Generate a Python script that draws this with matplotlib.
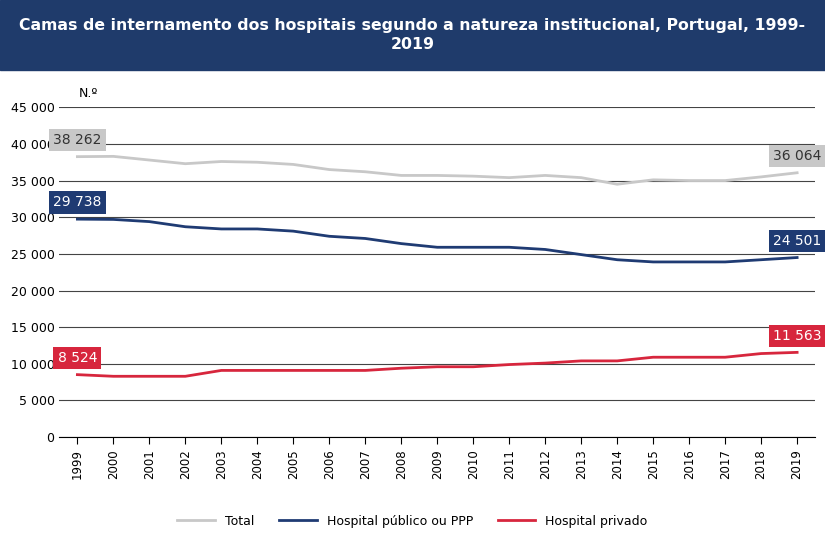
import matplotlib.pyplot as plt
from matplotlib.patches import Rectangle
import numpy as np

years = list(range(1999, 2020))
total = [38262, 38300, 37800, 37300, 37600, 37500, 37200, 36500, 36200, 35700, 35700,
         35600, 35400, 35700, 35400, 34500, 35100, 35000, 35000, 35500, 36064]
publico = [29738, 29700, 29400, 28700, 28400, 28400, 28100, 27400, 27100, 26400, 25900,
           25900, 25900, 25600, 24900, 24200, 23900, 23900, 23900, 24200, 24501]
privado = [8524, 8300, 8300, 8300, 9100, 9100, 9100, 9100, 9100, 9400, 9600,
           9600, 9900, 10100, 10400, 10400, 10900, 10900, 10900, 11400, 11563]

c_total, c_pub, c_priv = '#c8c8c8', '#1f3b73', '#d7263d'

fig = plt.figure(figsize=(8.25, 5.39), dpi=100)
fig.patches.append(Rectangle((0, 1 - 70 / 539), 1, 70 / 539, transform=fig.transFigure,
                             color='#1f3b6b', zorder=0))
fig.text(0.5, 1 - 35 / 539,
         'Camas de internamento dos hospitais segundo a natureza institucional, Portugal, 1999-\n2019',
         ha='center', va='center', color='white', fontsize=11.3, fontweight='bold',
         linespacing=1.4)

ax = fig.add_axes([0.072, 0.189, 0.916, 0.612])
x = np.arange(len(years))
ax.plot(x, total, color=c_total, lw=2, label='Total')
ax.plot(x, publico, color=c_pub, lw=2, label='Hospital público ou PPP')
ax.plot(x, privado, color=c_priv, lw=2, label='Hospital privado')

ax.set_ylim(0, 45000)
ax.set_xlim(-0.5, len(years) - 0.5)
ax.set_yticks(range(0, 45001, 5000))
ax.set_yticklabels([f'{v:,}'.replace(',', ' ') for v in range(0, 45001, 5000)], fontsize=9)
ax.set_xticks(x)
ax.set_xticklabels(years, rotation=90, fontsize=8.5)
ax.grid(axis='y', color='#444444', lw=0.8)
ax.set_axisbelow(True)
for s in ['top', 'right', 'left']:
    ax.spines[s].set_visible(False)
ax.tick_params(axis='y', length=0)
ax.tick_params(axis='x', length=5, direction='out')
ax.text(0.3, 46000, 'N.º', fontsize=9, ha='center', va='bottom')

def lbl(i, v, col, tcol):
    ax.annotate(f'{v:,}'.replace(',', ' '), (i, v), xytext=(0, 12), textcoords='offset points',
                ha='center', va='center', fontsize=10, color=tcol,
                bbox=dict(boxstyle='square,pad=0.3', fc=col, ec='none'))

for series, col, tcol in [(total, c_total, '#333333'), (publico, c_pub, 'white'),
                          (privado, c_priv, 'white')]:
    lbl(0, series[0], col, tcol)
    lbl(len(years) - 1, series[-1], col, tcol)

fig.legend(loc='lower center', bbox_to_anchor=(0.5, 0.0), ncol=3, frameon=False,
           fontsize=9, handlelength=3)
fig.savefig('out.png', dpi=100)
